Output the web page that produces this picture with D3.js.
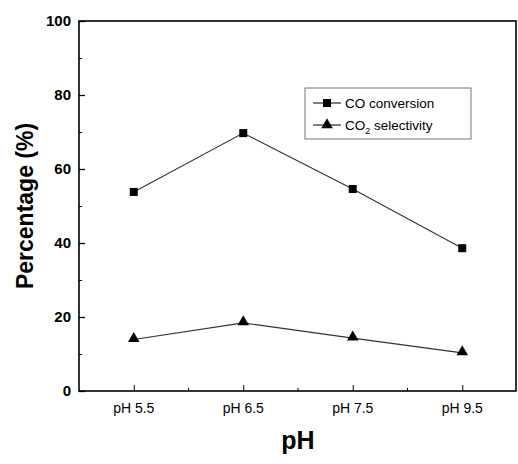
<!DOCTYPE html>
<html>
<head>
<meta charset="utf-8">
<script src="https://cdn.jsdelivr.net/npm/d3@7"></script>
<style>
body { margin: 0; background: #fff; }
svg { display: block; font-family: "Liberation Sans", Arial, sans-serif; }
</style>
</head>
<body>
<div id="chart"></div>
<script>
// values
var phLabels = ["pH 5.5", "pH 6.5", "pH 7.5", "pH 9.5"];
var coConversion = [53.8, 69.7, 54.6, 38.6];
var co2Selectivity = [13.9, 18.4, 14.3, 10.3];
var yTicks = [0, 20, 40, 60, 80, 100];
var yMinor = [10, 30, 50, 70, 90];

var width = 518, height = 464;
// plot box (note: "top" is reserved on window, so use a margin object)
var m = { left: 79, right: 517, top: 21, bottom: 391 };

var svg = d3.select("#chart").append("svg")
  .attr("width", width)
  .attr("height", height);

var x = d3.scalePoint()
  .domain(phLabels)
  .range([m.left, m.right])
  .padding(0.5);

var y = d3.scaleLinear()
  .domain([0, 100])
  .range([m.bottom, m.top]);

// frame
svg.append("rect")
  .attr("x", m.left).attr("y", m.top)
  .attr("width", m.right - m.left - 1).attr("height", m.bottom - m.top)
  .attr("fill", "none")
  .attr("stroke", "#000")
  .attr("stroke-width", 1.6);

// y axis, ticks pointing inward
var yAxis = svg.append("g")
  .attr("transform", "translate(" + m.left + ",0)")
  .call(d3.axisRight(y).tickValues(yTicks).tickSize(6).tickFormat(""));
yAxis.select(".domain").remove();
yAxis.selectAll("line").attr("stroke-width", 1.3);

svg.append("g")
  .attr("transform", "translate(" + m.left + ",0)")
  .call(d3.axisRight(y).tickValues(yMinor).tickSize(3).tickFormat(""))
  .call(function(g) { g.select(".domain").remove(); });

svg.selectAll(".ylab")
  .data(yTicks)
  .enter().append("text")
  .attr("class", "ylab")
  .attr("x", m.left - 8)
  .attr("y", function(d) { return y(d); })
  .attr("dy", "0.36em")
  .attr("text-anchor", "end")
  .attr("font-size", 15)
  .attr("font-weight", "bold")
  .text(function(d) { return d; });

// x axis, ticks pointing up
var xAxis = svg.append("g")
  .attr("transform", "translate(0," + m.bottom + ")")
  .call(d3.axisTop(x).tickSize(6).tickFormat(""));
xAxis.select(".domain").remove();

var step = x.step();
var xMinor = phLabels.slice(0, -1).map(function(d) { return x(d) + step / 2; });
svg.selectAll(".xminor")
  .data(xMinor)
  .enter().append("line")
  .attr("x1", function(d) { return d; })
  .attr("x2", function(d) { return d; })
  .attr("y1", m.bottom)
  .attr("y2", m.bottom - 3)
  .attr("stroke", "#000");

svg.selectAll(".xlab")
  .data(phLabels)
  .enter().append("text")
  .attr("class", "xlab")
  .attr("x", function(d) { return x(d); })
  .attr("y", m.bottom + 22)
  .attr("text-anchor", "middle")
  .attr("font-size", 14)
  .text(function(d) { return d; });

// axis titles
svg.append("text")
  .attr("transform", "translate(33," + (m.top + m.bottom) / 2 + ") rotate(-90)")
  .attr("text-anchor", "middle")
  .attr("font-size", 23)
  .attr("font-weight", "bold")
  .text("Percentage (%)");

svg.append("text")
  .attr("x", (m.left + m.right) / 2)
  .attr("y", 449)
  .attr("text-anchor", "middle")
  .attr("font-size", 25)
  .attr("font-weight", "bold")
  .text("pH");

// lines + markers
var line = d3.line()
  .x(function(d, i) { return x(phLabels[i]); })
  .y(function(d) { return y(d); });

[coConversion, co2Selectivity].forEach(function(series) {
  svg.append("path")
    .datum(series)
    .attr("d", line)
    .attr("fill", "none")
    .attr("stroke", "#333")
    .attr("stroke-width", 1.1);
});

var square = d3.symbol().type(d3.symbolSquare).size(64);
var triangle = d3.symbol().type(d3.symbolTriangle).size(58);

svg.selectAll(".sq")
  .data(coConversion)
  .enter().append("path")
  .attr("d", square)
  .attr("transform", function(d, i) { return "translate(" + x(phLabels[i]) + "," + y(d) + ")"; })
  .attr("fill", "#000");

svg.selectAll(".tri")
  .data(co2Selectivity)
  .enter().append("path")
  .attr("d", triangle)
  .attr("transform", function(d, i) { return "translate(" + x(phLabels[i]) + "," + (y(d) - 1) + ")"; })
  .attr("fill", "#000");

// legend
var lg = svg.append("g").attr("transform", "translate(305,88)");
lg.append("rect")
  .attr("width", 166).attr("height", 51)
  .attr("fill", "#fff")
  .attr("stroke", "#555")
  .attr("stroke-width", 0.8);

[{ y: 15, sym: square }, { y: 37, sym: triangle }].forEach(function(r) {
  lg.append("line")
    .attr("x1", 8).attr("x2", 36)
    .attr("y1", r.y).attr("y2", r.y)
    .attr("stroke", "#000");
  lg.append("path")
    .attr("d", r.sym)
    .attr("transform", "translate(22," + r.y + ")")
    .attr("fill", "#000");
});

lg.append("text")
  .attr("x", 40).attr("y", 15).attr("dy", "0.35em")
  .attr("font-size", 13.5)
  .text("CO conversion");

var t2 = lg.append("text")
  .attr("x", 40).attr("y", 37).attr("dy", "0.35em")
  .attr("font-size", 13.5);
t2.append("tspan").text("CO");
t2.append("tspan").attr("font-size", 9).attr("dy", 4).text("2");
t2.append("tspan").attr("dy", -4).text(" selectivity");
</script>
</body>
</html>
